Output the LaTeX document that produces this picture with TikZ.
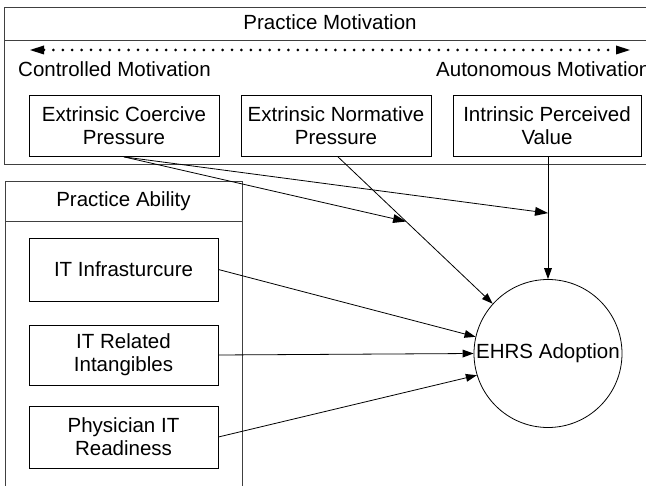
\documentclass[tikz,border=0pt]{standalone}
\usepackage{fontspec}
\setmainfont{Liberation Sans}
\usetikzlibrary{arrows.meta,calc}
\begin{document}
\begin{tikzpicture}[x=1pt,y=-1pt,
  txt/.style={inner sep=0pt, font=\fontsize{20.5}{23}\selectfont, align=center},
  box/.style={txt, draw, line width=0.8pt, minimum width=190pt, minimum height=61pt},
  frame/.style={draw=black!75, line width=0.9pt},
  con/.style={line width=0.8pt, -{Triangle[length=11pt,width=8pt,line width=0pt]}},
  mod/.style={line width=0.8pt, -{Triangle[length=13pt,width=9pt,line width=0pt]}},
  dotarrow/.style={line width=3pt, line cap=round, dash pattern=on 0pt off 9.4pt,
    {Triangle[length=14pt,width=9pt,line width=0pt]}-{Triangle[length=14pt,width=9pt,line width=0pt]}}
]
\useasboundingbox (0,0) rectangle (646,486);
\clip (0,0) rectangle (646,486);
\fill[white] (0,0) rectangle (646,486);

% Practice Motivation container
\draw[frame] (4,7) rectangle (700,164);
\draw[frame] (4,40) -- (700,40);
\node[txt] (pmtitle) at (330,22) {Practice Motivation};
\coordinate (dl) at (30,50);
\coordinate (dr) at (630,50);
\draw[dotarrow] (dl) -- (dr);
\node[txt, anchor=west] (ctrl) at (18,69) {Controlled Motivation};
\node[txt, anchor=west] (auto) at (436,69) {Autonomous Motivation};

\node[box] (coe) at (124,126) {Extrinsic Coercive\\Pressure};
\node[box] (nor) at (336,126) {Extrinsic Normative\\Pressure};
\node[box, minimum width=188pt] (int) at (547,126) {Intrinsic Perceived\\Value};

% Practice Ability container
\draw[frame] (5,181) rectangle (242,520);
\draw[frame] (5,221) -- (242,221);
\node[txt] (patitle) at (123.5,201) {Practice Ability};

\node[box, minimum width=189pt, minimum height=63pt] (inf) at (123.5,269.5) {IT Infrasturcure};
\node[box, minimum width=189pt, minimum height=60pt] (rel) at (123.5,355) {IT Related\\Intangibles};
\node[box, minimum width=189pt, minimum height=62pt] (phy) at (123.5,437) {Physician IT\\Readiness};

% Outcome
\node[txt, draw, circle, line width=0.8pt, minimum size=148pt] (ehrs) at (548,353.5) {EHRS Adoption};

% Connectors
\coordinate (nstart) at ([xshift=2pt]nor.south);
\draw[con] (nstart) -- (ehrs.138);
\draw[con] (int.south -| ehrs.north) -- (ehrs.north);
\draw[con] (inf.east) -- (ehrs.167);
\draw[con] (rel.east) -- (ehrs.west);
\draw[con] (phy.east) -- (ehrs.197);

\coordinate (m1) at ($(nstart)!0.44!(ehrs.138)$);
\coordinate (m2) at ($(int.south -| ehrs.north)!0.46!(ehrs.north)$);
\draw[mod] (coe.south) -- (m1);
\draw[mod] (coe.south) -- (m2);
\end{tikzpicture}
\end{document}
